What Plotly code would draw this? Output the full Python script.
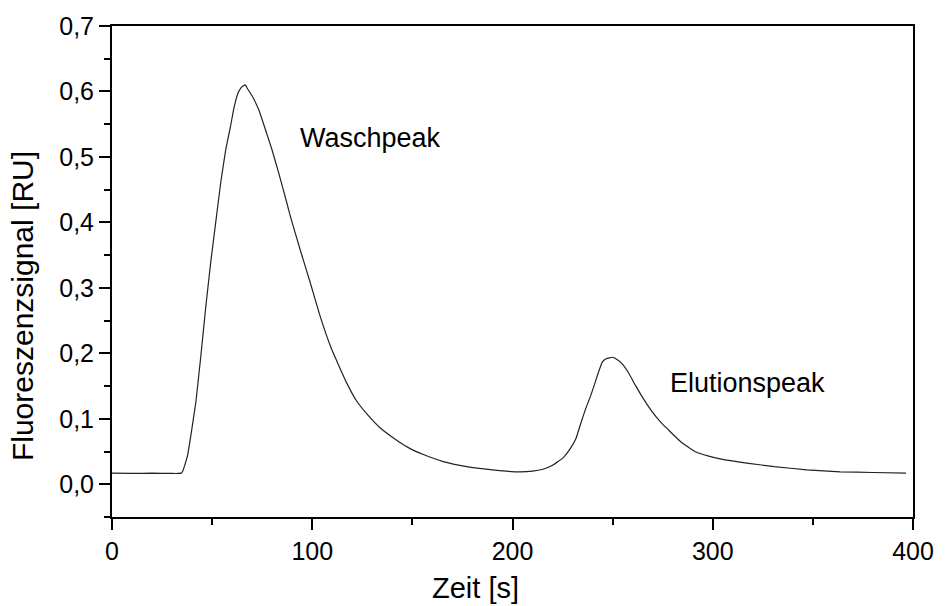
import plotly.graph_objects as go

# Data
time_s = [0, 10, 20, 30, 33.0, 34.5, 35.3, 36.1, 37.8, 39.4, 41.9, 44.4, 46.9, 49.3,
          51.8, 54.3, 56.8, 59.2, 60.9, 63.0, 64.5, 65.8, 66.6, 67.5, 70.0, 73.3,
          76.6, 79.9, 83.2, 87.3, 89.0, 93.9, 98.9, 103.8, 109.6, 117.0, 122.0,
          127.7, 134.0, 140.9, 148.0, 155.8, 165.0, 177.2, 190.0, 197.0, 203.6,
          210.0, 215.2, 220.0, 225.1, 228.5, 231.7, 234.0, 236.6, 239.0, 240.8,
          242.8, 244.9, 247.0, 249.9, 252.0, 254.8, 258.0, 261.4, 265.5, 269.7,
          274.0, 277.9, 284.0, 291.1, 298.0, 305.0, 318.0, 330.7, 347.0, 363.7,
          380.0, 396.5]
signal_ru = [0.017, 0.0165, 0.017, 0.0165, 0.0165, 0.017, 0.020, 0.027, 0.045, 0.075,
             0.126, 0.197, 0.273, 0.339, 0.400, 0.461, 0.511, 0.547, 0.575, 0.598,
             0.606, 0.609, 0.610, 0.605, 0.593, 0.572, 0.542, 0.511, 0.476, 0.430,
             0.410, 0.359, 0.309, 0.258, 0.207, 0.156, 0.128, 0.106, 0.086, 0.070,
             0.056, 0.045, 0.035, 0.027, 0.022, 0.020, 0.019, 0.020, 0.023, 0.029,
             0.040, 0.053, 0.070, 0.092, 0.116, 0.135, 0.151, 0.170, 0.187, 0.192,
             0.194, 0.191, 0.184, 0.170, 0.151, 0.130, 0.111, 0.095, 0.083, 0.065,
             0.050, 0.043, 0.038, 0.032, 0.027, 0.022, 0.019, 0.018, 0.017]

peak_labels = ["Waschpeak", "Elutionspeak"]
peak_label_x = [93.1, 277.6]
peak_label_y = [0.529, 0.154]

x_title = "Zeit [s]"
y_title = "Fluoreszenzsignal [RU]"

FONT = "Liberation Sans, Arial, sans-serif"

fig = go.Figure()
fig.add_trace(go.Scatter(
    x=time_s, y=signal_ru, mode="lines",
    line=dict(color="#222222", width=1.2, shape="spline", smoothing=0.3),
    showlegend=False, hoverinfo="skip"))

for txt, xv, yv in zip(peak_labels, peak_label_x, peak_label_y):
    fig.add_annotation(x=xv, y=yv, xref="x", yref="y", text=txt, showarrow=False,
                       xanchor="left", yanchor="middle",
                       font=dict(family=FONT, size=27, color="black"))

axis_common = dict(
    showline=True, linecolor="black", linewidth=2, mirror=True,
    showgrid=False, zeroline=False, ticks="outside", tickcolor="black",
    tickwidth=2, ticklen=11,
    tickfont=dict(family=FONT, size=25, color="black"),
)

fig.update_layout(
    width=946, height=606,
    margin=dict(l=112, r=26, t=23, b=89),
    paper_bgcolor="white", plot_bgcolor="white",
    separators=", ",
    font=dict(family=FONT, color="black"),
    xaxis=dict(range=[0, 400], tick0=0, dtick=100,
               minor=dict(ticks="outside", dtick=50, ticklen=6, tickwidth=2,
                          tickcolor="black"),
               **axis_common),
    yaxis=dict(range=[-0.05, 0.7], tick0=0, dtick=0.1, tickformat=".1f",
               minor=dict(ticks="outside", dtick=0.05, tick0=0, ticklen=6,
                          tickwidth=2, tickcolor="black"),
               **axis_common),
)

# Axis titles placed as annotations in paper coordinates (pixel-matched)
plot_w = 946 - 112 - 26
plot_h = 606 - 23 - 89
fig.add_annotation(x=(479 - 112) / plot_w, y=-(588 - 517) / plot_h,
                   xref="paper", yref="paper", text=x_title, showarrow=False,
                   xanchor="center", yanchor="middle",
                   font=dict(family=FONT, size=29, color="black"))
fig.add_annotation(x=(22 - 112) / plot_w, y=(517 - 305) / plot_h,
                   xref="paper", yref="paper", text=y_title, showarrow=False,
                   textangle=-90, xanchor="center", yanchor="middle",
                   font=dict(family=FONT, size=30, color="black"))

fig.write_html("out.html")
